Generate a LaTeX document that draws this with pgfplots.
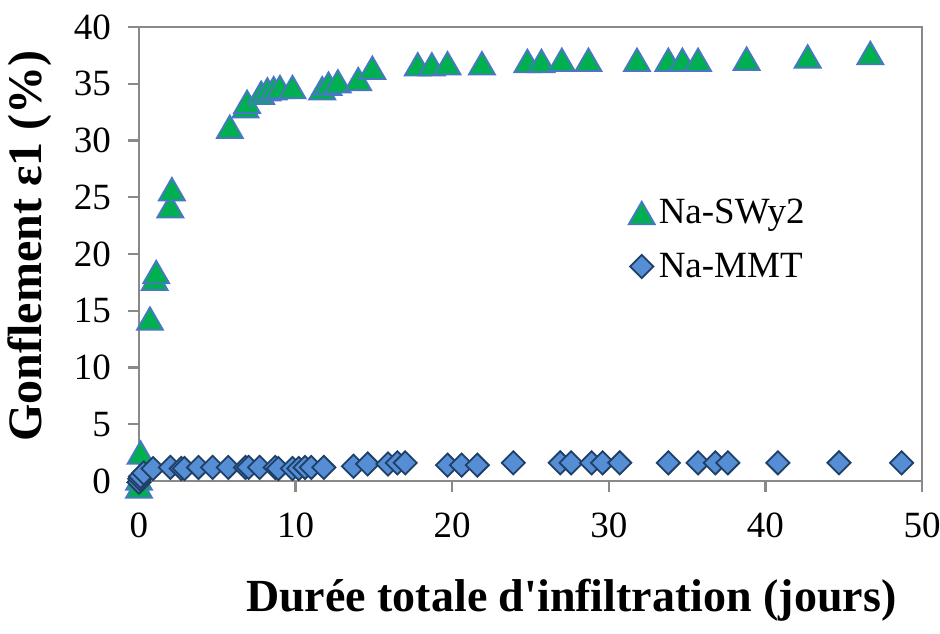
\documentclass[border=0pt]{standalone}
\usepackage{pgfplots}
\pgfplotsset{compat=1.18}
\usepackage{fontspec}
\setmainfont{Liberation Serif}
\definecolor{axgrey}{HTML}{898989}
\definecolor{trifill}{HTML}{00B050}
\definecolor{triedge}{HTML}{4A76C6}
\definecolor{diafill}{HTML}{558ED5}
\definecolor{diaedge}{HTML}{1F3F66}
\begin{document}
\begin{tikzpicture}
\useasboundingbox (-69.5pt,-76pt) rectangle (400.5pt,240.5pt);
\begin{axis}[
  scale only axis,
  width=391.5pt, height=227pt,
  xmin=0, xmax=50, ymin=0, ymax=40,
  xtick={0,10,...,50}, ytick={0,5,...,40},
  axis line style={axgrey, line width=1.2pt},
  tick style={axgrey, line width=1.2pt},
  major tick length=5.5pt,
  tick align=outside,
  xtick pos=bottom, ytick pos=left,
  clip=false,
  /pgf/number format/assume math mode=true,
  tick label style={font=\fontsize{18.5}{21}\selectfont},
  yticklabel style={xshift=-5pt},
  xticklabel style={yshift=-7pt},
  xlabel={\fontsize{23}{26}\selectfont\bfseries Durée totale d\textquotesingle infiltration (jours)},
  ylabel={\fontsize{24}{27}\selectfont\bfseries Gonflement ε1 (\%)},
  xlabel style={at={(rel axis cs:0.552,-0.262)}, anchor=center},
  ylabel style={at={(rel axis cs:-0.14,0.518)}, anchor=center},
  legend style={draw=none, fill=none, at={(rel axis cs:0.625,0.63)}, anchor=north west,
    font=\fontsize{18.5}{21}\selectfont, row sep=9pt, inner sep=0pt},
  legend cell align=left,
  legend image code/.code={\draw[#1] plot coordinates {(0.3cm,0cm)};},
]
\addplot[only marks, mark=triangle*, mark size=7.5pt,
  mark options={fill=trifill, draw=triedge, line width=0.9pt, yshift=-1.8pt}]
coordinates {
(0,-0.5) (0,0.2) (0.1,2.5) (0.7,14.3) (1.0,17.8) (1.1,18.4) (2.0,24.2) (2.1,25.7)
(5.8,31.2) (6.8,33.0) (6.9,33.4) (7.8,34.2) (8.2,34.5) (8.6,34.6) (9.0,34.7) (9.8,34.7)
(11.7,34.6) (12.1,35.0) (12.7,35.2) (14.0,35.4) (14.9,36.4) (17.8,36.7) (18.7,36.7)
(19.7,36.8) (21.9,36.8) (24.8,37.0) (25.7,37.0) (27.0,37.1) (28.7,37.1) (31.8,37.1)
(33.8,37.1) (34.7,37.1) (35.7,37.1) (38.8,37.2) (42.7,37.4) (46.7,37.7)
};
\addlegendentry{Na-SWy2}
\addplot[only marks, mark=square*, mark size=4.1pt,
  mark options={fill=diafill, draw=diaedge, line width=0.9pt, rotate=45}]
coordinates {
(0,-0.1) (0.05,0.2) (0.1,0.4) (0.3,0.7) (0.9,1.1) (2.0,1.2) (2.7,1.1) (2.9,1.1)
(3.8,1.2) (4.7,1.2) (5.7,1.2) (6.8,1.2) (7.0,1.2) (7.7,1.2) (8.7,1.2) (8.9,1.1)
(9.8,1.1) (10.2,1.1) (10.6,1.2) (11.0,1.2) (11.8,1.2) (13.7,1.3) (14.6,1.5)
(15.9,1.5) (16.5,1.6) (17.0,1.6) (19.7,1.4) (20.6,1.4) (21.6,1.4) (23.9,1.6)
(26.9,1.6) (27.6,1.6) (28.9,1.6) (29.6,1.6) (30.7,1.6) (33.8,1.6) (35.7,1.6)
(36.8,1.6) (37.6,1.6) (40.8,1.6) (44.7,1.6) (48.7,1.6)
};
\addlegendentry{Na-MMT}
\end{axis}
\end{tikzpicture}
\end{document}
